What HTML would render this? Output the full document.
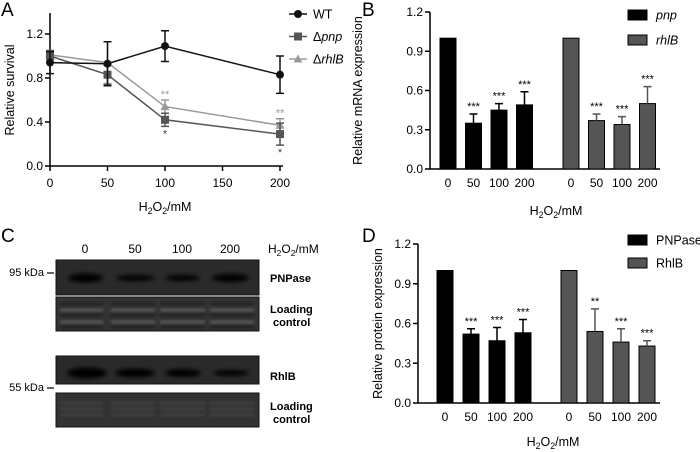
<!DOCTYPE html>
<html><head><meta charset="utf-8"><style>
body{margin:0;background:#fff;}
svg{display:block;font-family:"Liberation Sans",Arial,sans-serif;}
</style></head><body>
<svg id="fig" width="700" height="452" viewBox="0 0 700 452" xmlns="http://www.w3.org/2000/svg">
<defs>
<filter id="blur1"><feGaussianBlur stdDeviation="2"/></filter>
<filter id="blur2"><feGaussianBlur stdDeviation="1.2"/></filter>
</defs>
<g font-size="19">
<text x="1" y="16">A</text>
<text x="362" y="16">B</text>
<text x="1" y="242">C</text>
<text x="362" y="242">D</text>
</g>
<g id="panelA"></g>
<g id="panelB"></g>
<g id="panelC"></g>
<g id="panelD"></g>
</svg>
<script>
// ---- Panel A data
const aDoses=[0,50,100,200];
const aTicksX=[0,50,100,150,200];
const aTicksY=[0,0.4,0.8,1.2];
const wtVals=[0.94,0.93,1.09,0.83];
const wtErr=[0.10,0.20,0.14,0.17];
const pnpVals=[1.00,0.83,0.42,0.29];
const pnpErr=[0.05,0.09,0.06,0.10];
const rhlVals=[1.01,0.94,0.54,0.37];
const rhlErr=[0.03,0.19,0.06,0.06];
// ---- Panel B data
const bLabels=['0','50','100','200'];
const bPnp=[1.00,0.35,0.45,0.49];
const bPnpErr=[0,0.07,0.05,0.10];
const bPnpSig=['','***','***','***'];
const bRhl=[1.00,0.37,0.34,0.50];
const bRhlErr=[0,0.05,0.06,0.13];
const bRhlSig=['','***','***','***'];
const barTicksY=[0,0.3,0.6,0.9,1.2];
// ---- Panel D data
const dPnp=[1.00,0.52,0.47,0.53];
const dPnpErr=[0,0.04,0.10,0.10];
const dPnpSig=['','***','***','***'];
const dRhl=[1.00,0.54,0.46,0.43];
const dRhlErr=[0,0.17,0.10,0.04];
const dRhlSig=['','**','***','***'];

const NS='http://www.w3.org/2000/svg';
function mk(p,tag,at,txt){const e=document.createElementNS(NS,tag);for(const k in at)e.setAttribute(k,at[k]);if(txt!==undefined)e.textContent=txt;p.appendChild(e);return e;}
function h2o2(p,x,y,anchor,size){const t=mk(p,'text',{x:x,y:y,'text-anchor':anchor,'font-size':size});


t.appendChild(document.createTextNode('H'));mk(t,'tspan',{dy:3,'font-size':size*0.7},'2');mk(t,'tspan',{dy:-3},'O');mk(t,'tspan',{dy:3,'font-size':size*0.7},'2');mk(t,'tspan',{dy:-3},'/mM');return t;}

// ===== Panel A
(function(){
const g=document.getElementById('panelA');
const x=v=>50+v*230/200, y=v=>166-v*132/1.2;
const ax=mk(g,'path',{d:'M50,13V166H283',fill:'none',stroke:'#000','stroke-width':1.5});


aTicksY.forEach(t=>{mk(g,'line',{x1:45,x2:50,y1:y(t),y2:y(t),stroke:'#000','stroke-width':1.5});
const l=mk(g,'text',{x:43,y:y(t)+4,'text-anchor':'end','font-size':12},t.toFixed(1));

});
aTicksX.forEach(t=>{mk(g,'line',{x1:x(t),x2:x(t),y1:166,y2:171,stroke:'#000','stroke-width':1.5});
const l=mk(g,'text',{x:x(t),y:187,'text-anchor':'middle','font-size':12},t);

});
const yt=mk(g,'text',{x:0,y:0,transform:'translate(14,90) rotate(-90)','text-anchor':'middle','font-size':12.5},'Relative survival');


h2o2(g,165,211,'middle',12.5);
const series=[{v:rhlVals,e:rhlErr,c:'#9a9a9a',m:'tri',n:'rhlb'},{v:pnpVals,e:pnpErr,c:'#555',m:'sq',n:'pnp'},{v:wtVals,e:wtErr,c:'#111',m:'circ',n:'wt'}];
function marker(p,m,cx,cy,c){if(m==='circ')return mk(p,'circle',{cx:cx,cy:cy,r:4,fill:c});
if(m==='sq')return mk(p,'rect',{x:cx-4,y:cy-4,width:8,height:8,fill:c});
return mk(p,'path',{d:`M${cx},${cy-4.5}L${cx+4.5},${cy+3.5}L${cx-4.5},${cy+3.5}Z`,fill:c});}
series.forEach(s=>{
const ln=mk(g,'polyline',{points:aDoses.map((d,i)=>x(d)+','+y(s.v[i])).join(' '),fill:'none',stroke:s.c,'stroke-width':1.5});


aDoses.forEach((d,i)=>{const cx=x(d),t=y(s.v[i]+s.e[i]),b=y(s.v[i]-s.e[i]);
mk(g,'path',{d:`M${cx},${t}V${b}M${cx-4},${t}H${cx+4}M${cx-4},${b}H${cx+4}`,stroke:s.c,'stroke-width':1.5,fill:'none'});
const mm=marker(g,s.m,cx,y(s.v[i]),s.c);

});});
[[2,'**'],[3,'**']].forEach(([i,t])=>{mk(g,'text',{x:x(aDoses[i]),y:y(rhlVals[i]+rhlErr[i])-2,'text-anchor':'middle','font-size':11,fill:'#9a9a9a'},t);});
[[2,'*'],[3,'*']].forEach(([i,t])=>{mk(g,'text',{x:x(aDoses[i]),y:y(pnpVals[i]-pnpErr[i])+11,'text-anchor':'middle','font-size':11,fill:'#444'},t);});
const leg=[['WT','#111','circ'],['\u0394','#555','sq','pnp'],['\u0394','#9a9a9a','tri','rhlB']];
leg.forEach((L,i)=>{const ly=14+i*22.5;const lg=mk(g,'g',{});


mk(lg,'line',{x1:289,x2:307,y1:ly,y2:ly,stroke:L[1],'stroke-width':1.5});marker(lg,L[2],298,ly,L[1]);
const t=mk(lg,'text',{x:313,y:ly+4.5,'font-size':12.5},L[0]);if(L[3])mk(t,'tspan',{'font-style':'italic'},L[3]);});
})();

// ===== bar charts
function barChart(gid,o){
const g=document.getElementById(gid);
const y=v=>o.y0-v*(o.y0-o.y12)/1.2;
const ax=mk(g,'path',{d:`M${o.ax},${o.y12}V${o.y0}H${o.xend}`,fill:'none',stroke:'#000','stroke-width':1.5});


barTicksY.forEach(t=>{mk(g,'line',{x1:o.ax-5,x2:o.ax,y1:y(t),y2:y(t),stroke:'#000','stroke-width':1.5});
const l=mk(g,'text',{x:o.ax-7,y:y(t)+4,'text-anchor':'end','font-size':12},t.toFixed(1));

});
const yt=mk(g,'text',{x:0,y:0,transform:`translate(${o.ytx},${(o.y0+o.y12)/2}) rotate(-90)`,'text-anchor':'middle','font-size':12.5},o.ytitle);


const groups=[[o.v1,o.e1,o.s1,'#000',o.g1x,o.n1],[o.v2,o.e2,o.s2,'#555',o.g2x,o.n2]];
groups.forEach(([v,e,s,c,gx,n])=>{
v.forEach((val,i)=>{const cx=gx+i*o.step,w=16;
const r=mk(g,'rect',{x:cx-w/2,y:y(val),width:w,height:y(0)-y(val),fill:c,stroke:'#000','stroke-width':1});


if(e[i]>0){const t=y(val+e[i]);mk(g,'path',{d:`M${cx},${y(val)}V${t}M${cx-4},${t}H${cx+4}`,stroke:c,'stroke-width':1.5});}
if(s[i])mk(g,'text',{x:cx,y:y(val+e[i])-4,'text-anchor':'middle','font-size':11},s[i]);
const l=mk(g,'text',{x:cx,y:o.y0+18,'text-anchor':'middle','font-size':12},bLabels[i]);

});});
h2o2(g,o.tx,o.ty,'middle',12.5);
[[o.n1,'#000',o.ly1,o.it],[o.n2,'#555',o.ly2,o.it]].forEach(([n,c,ly,it])=>{const lg=mk(g,'g',{});


mk(lg,'rect',{x:628,y:ly,width:19,height:10,fill:c,stroke:'#000','stroke-width':1});
mk(lg,'text',{x:656,y:ly+9.5,'font-size':12.5,'font-style':it?'italic':'normal'},n);});
}
barChart('panelB',{ax:430,y0:169,y12:12,xend:660,ytx:362,ytitle:'Relative mRNA expression',v1:bPnp,e1:bPnpErr,s1:bPnpSig,v2:bRhl,e2:bRhlErr,s2:bRhlSig,g1x:448,g2x:571,step:25.5,n1:'pnp',n2:'rhlB',tx:556,ty:215,ly1:10,ly2:35,it:true});
barChart('panelD',{ax:418,y0:403,y12:244,xend:660,ytx:382,ytitle:'Relative protein expression',v1:dPnp,e1:dPnpErr,s1:dPnpSig,v2:dRhl,e2:dRhlErr,s2:dRhlSig,g1x:445,g2x:569,step:26,n1:'PNPase',n2:'RhlB',tx:553,ty:446,ly1:235,ly2:258,it:false});

// ===== Panel C blots
(function(){
const g=document.getElementById('panelC');
const lanes=[85,135,182,230];
const laneLabels=['0','50','100','200'];
lanes.forEach((lx,i)=>{const t=mk(g,'text',{x:lx,y:253,'text-anchor':'middle','font-size':12},laneLabels[i]);

});
h2o2(g,268,253,'start',12);
const blots=[[260,35,'pnpase'],[297,34,'loading'],[356,28,'rhlb'],[393,34,'loading2']];
blots.forEach(([by,bh,n])=>{const r=mk(g,'rect',{x:56,y:by,width:203,height:bh,fill:n.startsWith('loading')?'#333':'#2a2a2a',stroke:'#111','stroke-width':1});

});
const bands=mk(g,'g',{filter:'url(#blur1)'});
const pw=[[68,103,4.5],[116,155,3],[165,200,3],[212,249,4]];
pw.forEach(([a,b,h])=>mk(bands,'ellipse',{cx:(a+b)/2,cy:278,rx:(b-a)/2,ry:h,fill:'#000'}));
const rw=[[67,107,5.5],[115,155,4.5],[165,201,4],[213,249,3]];
rw.forEach(([a,b,h])=>mk(bands,'ellipse',{cx:(a+b)/2,cy:373,rx:(b-a)/2,ry:h,fill:'#000'}));
const lc=mk(g,'g',{filter:'url(#blur2)'});
[[60,103],[111,155],[160,205],[210,254]].forEach(([a,b])=>{[303,309,314,321,326].forEach((yy,k)=>mk(lc,'rect',{x:a,y:yy,width:b-a,height:2,fill:k%2?'#666':'#1a1a1a'}));
[402,408,414].forEach(yy=>mk(lc,'rect',{x:a,y:yy,width:b-a,height:2,fill:'#444'}));});
const labs=[['PNPase',270,282],['Loading',270,313],['control',273,326],['RhlB',270,380],['Loading',270,410],['control',273,423]];
labs.forEach(([t,x,y])=>{const e=mk(g,'text',{x:x,y:y,'font-size':11,'font-weight':'bold'},t);

});
[['95 kDa',276,52],['55 kDa',391,52]].forEach(([t,y,x])=>{mk(g,'line',{x1:47,x2:54,y1:y-3,y2:y-3,stroke:'#000','stroke-width':1.2});
const e=mk(g,'text',{x:44,y:y,'text-anchor':'end','font-size':11},t);

});
})();
</script>
</body></html>
